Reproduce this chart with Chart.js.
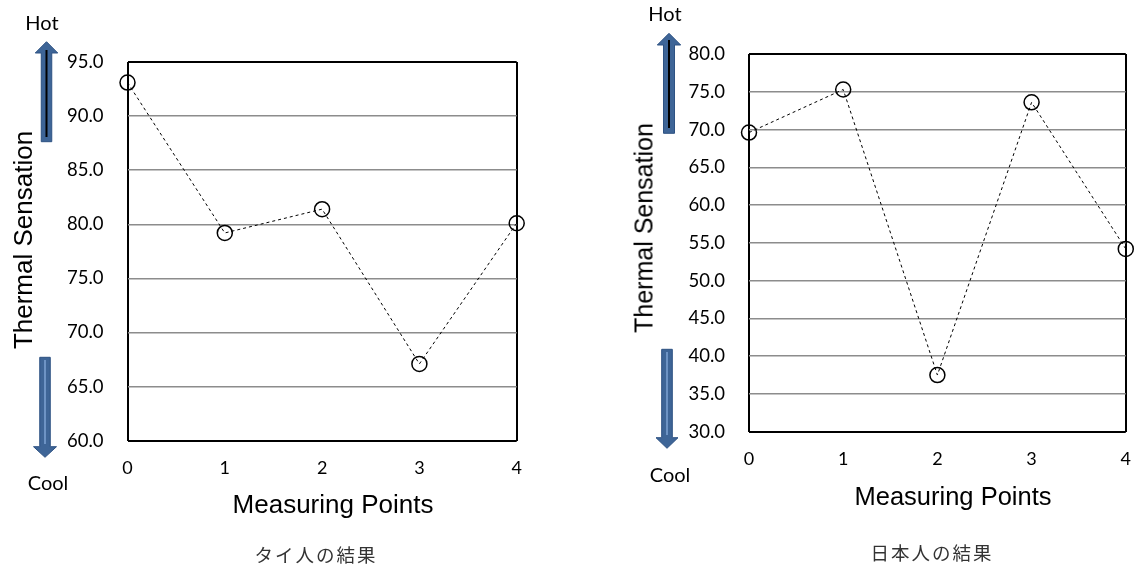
<!DOCTYPE html>
<html>
<head>
<meta charset="utf-8">
<script src="https://cdn.jsdelivr.net/npm/chart.js@4.4.1/dist/chart.umd.min.js"></script>
<style>
  html, body { margin: 0; padding: 0; background: #fff; }
  #wrap { position: relative; width: 1148px; height: 566px; overflow: hidden; background: #fff; }
  canvas { position: absolute; top: 0; }
  .t { position: absolute; white-space: nowrap; transform: translate(-50%, -50%); color: #000; }
  .lab { font-family: Lato, "Open Sans", sans-serif; font-size: 20px; }
  .ax { font-family: "Liberation Sans", Arial, sans-serif; }
  .yt { transform: translate(-50%, -50%) rotate(-90deg); }
  .cap { font-family: "Noto Sans CJK JP", sans-serif; font-weight: 400; font-size: 18.5px; letter-spacing: 2px; color: #333; }
</style>
</head>
<body>
<div id="wrap">
  <canvas id="c1" width="574" height="566" style="left:0px"></canvas>
  <canvas id="c2" width="574" height="566" style="left:574px"></canvas>

  <div class="t lab" style="left:42px; top:22px;">Hot</div>
  <div class="t lab" style="left:48px; top:482px;">Cool</div>
  <div class="t ax yt" style="left:23px; top:240px; font-size:26px;">Thermal Sensation</div>
  <div class="t ax" style="left:333px; top:504px; font-size:26px;">Measuring Points</div>
  <div class="t cap" style="left:316px; top:554px;">タイ人の結果</div>

  <div class="t lab" style="left:665px; top:13px;">Hot</div>
  <div class="t lab" style="left:670px; top:474px;">Cool</div>
  <div class="t ax yt" style="left:644px; top:228px; font-size:25px;">Thermal Sensation</div>
  <div class="t ax" style="left:953px; top:496px; font-size:25.5px;">Measuring Points</div>
  <div class="t cap" style="left:932px; top:552px;">日本人の結果</div>
</div>
<script>
// ---- data ----
const categories = ['0', '1', '2', '3', '4'];
const thaiValues = [93.1, 79.2, 81.4, 67.1, 80.1];
const japanValues = [69.6, 75.3, 37.5, 73.6, 54.2];
const thaiRange = [60, 95];
const japanRange = [30, 80];
const yStep = 5;

// ---- decoration: Hot / Cool arrows ----
const ARROW_FILL = '#3e6597';
const ARROW_EDGE = '#2e5283';
function drawArrow(ctx, a) {
  const s = a.shaftW / 2, h = a.headW / 2;
  ctx.save();
  ctx.beginPath();
  ctx.moveTo(a.cx, a.tipY);
  ctx.lineTo(a.cx + h, a.headBaseY);
  ctx.lineTo(a.cx + s, a.headBaseY);
  ctx.lineTo(a.cx + s, a.tailY);
  ctx.lineTo(a.cx - s, a.tailY);
  ctx.lineTo(a.cx - s, a.headBaseY);
  ctx.lineTo(a.cx - h, a.headBaseY);
  ctx.closePath();
  ctx.fillStyle = ARROW_FILL;
  ctx.fill();
  ctx.lineWidth = 1;
  ctx.strokeStyle = ARROW_EDGE;
  ctx.stroke();
  if (a.inner) {
    ctx.beginPath();
    ctx.moveTo(a.cx, a.inner[0]);
    ctx.lineTo(a.cx, a.inner[1]);
    ctx.lineWidth = a.innerW;
    ctx.strokeStyle = a.innerColor;
    ctx.stroke();
  }
  ctx.restore();
}
const arrowPlugin = {
  id: 'arrows',
  afterDraw(chart, args, opts) {
    (opts.list || []).forEach(a => drawArrow(chart.ctx, a));
  }
};

function makeChart(id, values, range, area, arrows) {
  const [ymin, ymax] = range;
  return new Chart(document.getElementById(id), {
    type: 'line',
    data: {
      labels: categories,
      datasets: [{
        data: values,
        borderColor: '#000',
        borderWidth: 1,
        borderDash: [3, 3],
        fill: false,
        tension: 0,
        pointStyle: 'circle',
        pointRadius: 7.5,
        pointHoverRadius: 7.5,
        pointBorderWidth: 1.5,
        pointBorderColor: '#000',
        pointBackgroundColor: 'rgba(255,255,255,0)',
        clip: false
      }]
    },
    options: {
      responsive: false,
      devicePixelRatio: 1,
      animation: false,
      events: [],
      layout: { padding: { top: area.top, right: 574 - area.right, bottom: 0, left: 0 } },
      plugins: {
        legend: { display: false },
        tooltip: { enabled: false },
        title: { display: false },
        arrows: { list: arrows }
      },
      scales: {
        x: {
          type: 'category',
          offset: false,
          afterFit(scale) { scale.height = 566 - area.bottom; },
          border: { display: false },
          grid: {
            offset: false,
            drawTicks: false,
            color: ctx => (ctx.index === 0 || ctx.index === categories.length - 1) ? '#000' : 'rgba(0,0,0,0)',
            lineWidth: 2
          },
          ticks: {
            padding: 17,
            color: '#000',
            maxRotation: 0,
            font: { family: 'Lato', size: 18 }
          }
        },
        y: {
          min: ymin,
          max: ymax,
          afterFit(scale) { scale.width = area.left; },
          border: { display: false },
          grid: {
            drawTicks: false,
            color: ctx => (ctx.tick && (ctx.tick.value === ymin || ctx.tick.value === ymax)) ? '#000' : '#8c8c8c',
            lineWidth: ctx => (ctx.tick && (ctx.tick.value === ymin || ctx.tick.value === ymax)) ? 2 : 1.5
          },
          ticks: {
            stepSize: yStep,
            padding: 24,
            color: '#000',
            font: { family: 'Lato', size: 18.5 },
            callback: v => Number(v).toFixed(1)
          }
        }
      }
    },
    plugins: [arrowPlugin]
  });
}

makeChart('c1', thaiValues, thaiRange,
  { left: 127.5, right: 516.7, top: 62, bottom: 440.7 },
  [
    { cx: 46.5, shaftW: 10.5, headW: 22.5, tipY: 41.7, headBaseY: 53, tailY: 141.7, inner: [50, 137], innerW: 2, innerColor: '#000' },
    { cx: 45, shaftW: 10.5, headW: 23, tipY: 457.3, headBaseY: 446.7, tailY: 357.3, inner: [360, 444], innerW: 2, innerColor: '#6d93c4' }
  ]);

makeChart('c2', japanValues, japanRange,
  { left: 175, right: 565.3, top: 54, bottom: 431.7 },
  [
    { cx: 95, shaftW: 11, headW: 23.4, tipY: 33.3, headBaseY: 45, tailY: 133.3, inner: [40, 128], innerW: 2, innerColor: '#000' },
    { cx: 93, shaftW: 10.6, headW: 22, tipY: 448.3, headBaseY: 437.7, tailY: 349.3, inner: [352, 435], innerW: 2, innerColor: '#6d93c4' }
  ]);
</script>
</body>
</html>
